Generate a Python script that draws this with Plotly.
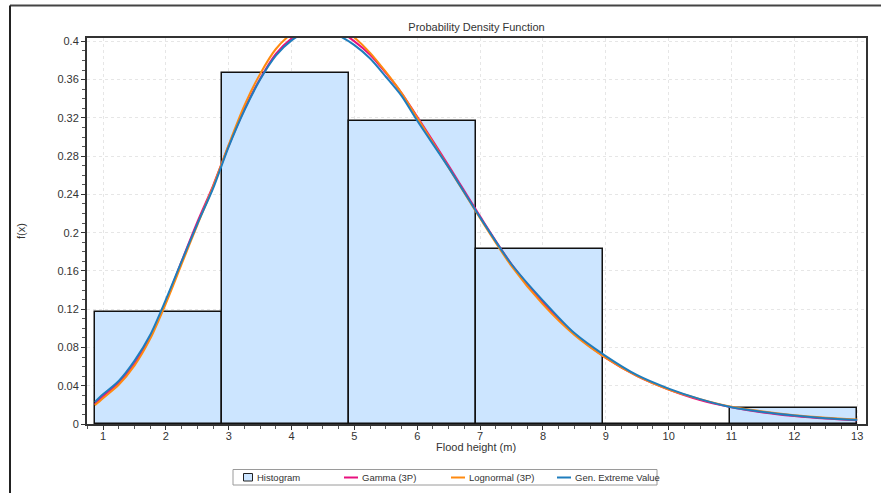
import plotly.graph_objects as go

# Histogram of flood heights: bin edges (m) and relative frequencies
bin_edges = [0.87, 2.89, 4.91, 6.94, 8.96, 10.98, 13.0]
bin_heights = [0.1167, 0.3667, 0.3167, 0.1833, 0.0, 0.0167]

# Fitted density curves, sampled along flood height (m)
x_fit = [0.87, 1.0, 1.25, 1.5, 1.75, 2.0, 2.25, 2.5, 2.75, 3.0, 3.25, 3.5, 3.75,
         4.0, 4.25, 4.5, 4.75, 5.0, 5.25, 5.5, 5.75, 6.0, 6.5, 7.0, 7.5, 8.0,
         8.5, 9.0, 9.5, 10.0, 10.5, 11.0, 11.5, 12.0, 12.5, 13.0]
gamma_3p = [0.021, 0.029, 0.043, 0.063, 0.091, 0.128, 0.170, 0.211, 0.249, 0.291,
            0.329, 0.361, 0.387, 0.403, 0.413, 0.416, 0.411, 0.400, 0.386, 0.367,
            0.346, 0.321, 0.270, 0.217, 0.167, 0.127, 0.094, 0.069, 0.050, 0.036,
            0.025, 0.0175, 0.012, 0.0083, 0.0057, 0.0039]
lognormal_3p = [0.0195, 0.027, 0.041, 0.061, 0.089, 0.126, 0.167, 0.208, 0.248, 0.292,
                0.333, 0.366, 0.392, 0.408, 0.418, 0.421, 0.416, 0.404, 0.388, 0.368,
                0.346, 0.320, 0.268, 0.215, 0.165, 0.125, 0.093, 0.069, 0.050, 0.036,
                0.026, 0.018, 0.013, 0.0092, 0.0066, 0.0047]
gen_extreme = [0.023, 0.031, 0.045, 0.066, 0.093, 0.130, 0.170, 0.209, 0.246, 0.290,
               0.328, 0.360, 0.385, 0.401, 0.410, 0.412, 0.406, 0.396, 0.382, 0.363,
               0.343, 0.317, 0.268, 0.216, 0.167, 0.129, 0.095, 0.071, 0.051, 0.037,
               0.026, 0.0175, 0.0125, 0.0088, 0.006, 0.0042]

series_names = ["Histogram", "Gamma (3P)", "Lognormal (3P)", "Gen. Extreme Value"]
series_colors = ["#CCE5FF", "#E8107E", "#FF8A10", "#1F7DBD"]

centers = [(a + b) / 2 for a, b in zip(bin_edges[:-1], bin_edges[1:])]
widths = [b - a for a, b in zip(bin_edges[:-1], bin_edges[1:])]

FONT = "Liberation Sans, Arial, sans-serif"
W, H = 881, 493
ML, MR, MT, MB = 87, 15, 38, 69
PW, PH = W - ML - MR, H - MT - MB


def px(xp):
    """Horizontal pixel position -> paper fraction."""
    return (xp - ML) / PW


def py(yp):
    """Vertical pixel position -> paper fraction."""
    return (H - MB - yp) / PH


fig = go.Figure()
fig.add_trace(go.Bar(
    x=centers, y=bin_heights, width=widths, name=series_names[0],
    marker=dict(color=series_colors[0], line=dict(color="#111111", width=1.5)),
    hoverinfo="skip",
))
for name, color, ys in zip(series_names[1:], series_colors[1:],
                           [gamma_3p, lognormal_3p, gen_extreme]):
    fig.add_trace(go.Scatter(x=x_fit, y=ys, mode="lines", name=name,
                             line=dict(color=color, width=2, shape="spline", smoothing=0.8),
                             hoverinfo="skip"))

shapes = [
    # outer chart frame (top and left edges)
    dict(type="line", xref="paper", yref="paper", x0=px(10), x1=px(900),
         y0=py(5.5), y1=py(5.5), line=dict(color="#444444", width=2)),
    dict(type="line", xref="paper", yref="paper", x0=px(10), x1=px(10),
         y0=py(5.5), y1=py(500), line=dict(color="#222222", width=2)),
    # legend box
    dict(type="rect", xref="paper", yref="paper", x0=px(233), x1=px(657),
         y0=py(469.5), y1=py(485), line=dict(color="#9a9a9a", width=1),
         fillcolor="white"),
    # legend swatch for the histogram
    dict(type="rect", xref="paper", yref="paper", x0=px(243.5), x1=px(252.5),
         y0=py(473.5), y1=py(481), line=dict(color="#222222", width=1),
         fillcolor=series_colors[0]),
]
annotations = [
    dict(text=series_names[0], xref="paper", yref="paper", x=px(255),
         y=py(477.5), xanchor="left", yanchor="middle", showarrow=False,
         font=dict(family=FONT, size=9.5, color="#333333")),
    # x-axis title
    dict(text="Flood height (m)", xref="paper", yref="paper", x=px(476),
         y=py(447), xanchor="center", yanchor="middle", showarrow=False,
         font=dict(family=FONT, size=11, color="#333333")),
]
legend_x = [344, 451, 557]
for xl, name, color in zip(legend_x, series_names[1:], series_colors[1:]):
    shapes.append(dict(type="line", xref="paper", yref="paper", x0=px(xl), x1=px(xl + 14),
                       y0=py(477.5), y1=py(477.5), line=dict(color=color, width=2)))
    annotations.append(dict(text=name, xref="paper", yref="paper", x=px(xl + 16),
                            y=py(477.5), xanchor="left", yanchor="middle", showarrow=False,
                            font=dict(family=FONT, size=9.5, color="#333333")))

fig.update_layout(
    width=W, height=H,
    margin=dict(l=ML, r=MR, t=MT, b=MB),
    paper_bgcolor="white", plot_bgcolor="white",
    font=dict(family=FONT, size=11, color="#333333"),
    bargap=0,
    showlegend=False,
    title=dict(text="Probability Density Function", x=(ML + PW / 2) / W,
               xanchor="center", y=1 - 27 / H, yanchor="middle",
               font=dict(family=FONT, size=11, color="#333333")),
    xaxis=dict(
        range=[0.745, 13.14], dtick=1, tick0=1, automargin=False,
        showline=True, linecolor="#333333", linewidth=2, mirror=True,
        ticks="outside", ticklen=4, tickcolor="#333333", tickwidth=1,
        ticklabelstandoff=-3,
        minor=dict(dtick=0.25, ticks="outside", ticklen=3, tickcolor="#555555", showgrid=False),
        showgrid=True, gridcolor="#e6e6e6", griddash="dot", gridwidth=1,
        zeroline=False,
    ),
    yaxis=dict(
        range=[0, 0.4035], dtick=0.04, tick0=0, automargin=False,
        showline=True, linecolor="#333333", linewidth=2, mirror=True,
        ticks="outside", ticklen=4, tickcolor="#333333", tickwidth=1,
        minor=dict(dtick=0.01, ticks="outside", ticklen=3, tickcolor="#555555", showgrid=False),
        showgrid=True, gridcolor="#e6e6e6", griddash="dot", gridwidth=1,
        zeroline=False,
        title=dict(text="f(x)", standoff=30, font=dict(family=FONT, size=11)),
    ),
    shapes=shapes,
    annotations=annotations,
)

fig.write_html("out.html")
